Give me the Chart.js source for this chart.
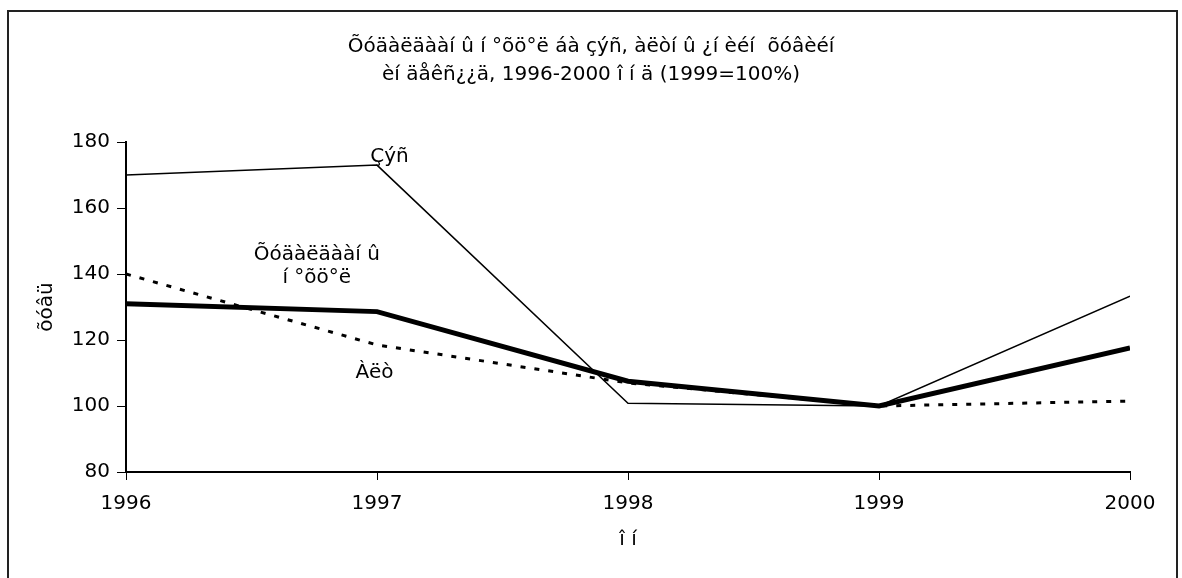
<!DOCTYPE html>
<html>
<head>
<meta charset="utf-8">
<script src="https://cdn.jsdelivr.net/npm/chart.js@4"></script>
<style>
  html, body { margin: 0; padding: 0; background: #fff; }
  #wrap { position: relative; width: 1182px; height: 578px; overflow: hidden; }
  #frame { position: absolute; left: 7px; top: 10px; width: 1171px; height: 600px;
           border: 2px solid #222; box-sizing: border-box; pointer-events: none; }
  canvas { position: absolute; left: 0; top: 0; }
</style>
</head>
<body>
<div id="wrap">
  <canvas id="chart" width="1182" height="578"></canvas>
  <div id="frame"></div>
</div>
<script>
var years = [1996, 1997, 1998, 1999, 2000];
var zes = [170, 173, 100.8, 100, 133.3];
var khudaldaa = [131, 128.6, 107.5, 100, 117.6];
var alt = [140, 118.5, 107, 100, 101.5];
var yTicks = [80, 100, 120, 140, 160, 180];

var titleLines = ["Õóäàëäààí û í °õö°ë áà çýñ, àëòí û ¿í èéí  õóâèéí",
                  "èí äåêñ¿¿ä, 1996-2000 î í ä (1999=100%)"];

// series labels placed in data units
var seriesLabels = [
  { text: "Çýñ", x: 1997.05, y: 175.5 },
  { text: "Õóäàëäààí û", x: 1996.76, y: 145.8 },
  { text: "í °õö°ë", x: 1996.76, y: 138.8 },
  { text: "Àëò", x: 1996.99, y: 110 }
];

var fontFamily = "'DejaVu Sans', sans-serif";
var fontSize = 20;

function pts(vals) {
  return vals.map(function (v, i) { return { x: years[i], y: v }; });
}

var labelPlugin = {
  id: "seriesLabels",
  afterDatasetsDraw: function (chart) {
    var c = chart.ctx;
    c.save();
    c.fillStyle = "#000";
    c.font = fontSize + "px " + fontFamily;
    c.textAlign = "center";
    c.textBaseline = "middle";
    seriesLabels.forEach(function (l) {
      c.fillText(l.text, chart.scales.x.getPixelForValue(l.x), chart.scales.y.getPixelForValue(l.y));
    });
    c.restore();
  }
};

new Chart(document.getElementById("chart").getContext("2d"), {
  type: "line",
  data: {
    datasets: [{
      label: "Çýñ",
      data: pts(zes),
      borderColor: "#000",
      borderWidth: 1.5
    }, {
      label: "Õóäàëäààí û í °õö°ë",
      data: pts(khudaldaa),
      borderColor: "#000",
      borderWidth: 5
    }, {
      label: "Àëò",
      data: pts(alt),
      borderColor: "#000",
      borderWidth: 3,
      borderDash: [5, 9]
    }]
  },
  options: {
    responsive: false,
    animation: false,
    elements: { point: { radius: 0 }, line: { tension: 0 } },
    layout: { padding: 0 },
    plugins: {
      legend: { display: false },
      tooltip: { enabled: false },
      title: {
        display: true,
        text: titleLines,
        color: "#000",
        font: { family: fontFamily, size: fontSize, weight: "normal", lineHeight: 1.4 },
        padding: { top: 33, bottom: 53 }
      }
    },
    scales: {
      x: {
        type: "linear",
        min: 1996,
        max: 2000,
        afterFit: function (s) { s.height = 106; },
        ticks: {
          stepSize: 1,
          color: "#000",
          padding: 12,
          font: { family: fontFamily, size: fontSize },
          callback: function (v) { return String(v); }
        },
        grid: { drawOnChartArea: false, color: "#000", tickLength: 8, tickColor: "#000" },
        border: { color: "#000", width: 2 },
        title: {
          display: true,
          text: "î í",
          color: "#000",
          font: { family: fontFamily, size: fontSize },
          padding: { top: 0, bottom: 26 }
        }
      },
      y: {
        min: 80,
        max: 180,
        afterFit: function (s) { s.width = 126; },
        afterBuildTicks: function (s) { s.ticks = yTicks.map(function (v) { return { value: v }; }); },
        ticks: {
          color: "#000",
          padding: 7,
          font: { family: fontFamily, size: fontSize }
        },
        grid: { drawOnChartArea: false, color: "#000", tickLength: 9, tickColor: "#000" },
        border: { color: "#000", width: 2 },
        title: {
          display: true,
          text: "õóâü",
          color: "#000",
          font: { family: fontFamily, size: fontSize },
          padding: { top: 35, bottom: 0 }
        }
      },
      spacer: {
        type: "linear",
        position: "right",
        display: true,
        afterFit: function (s) { s.width = 52; },
        ticks: { display: false },
        grid: { display: false },
        border: { display: false }
      }
    }
  },
  plugins: [labelPlugin]
});
</script>
</body>
</html>
